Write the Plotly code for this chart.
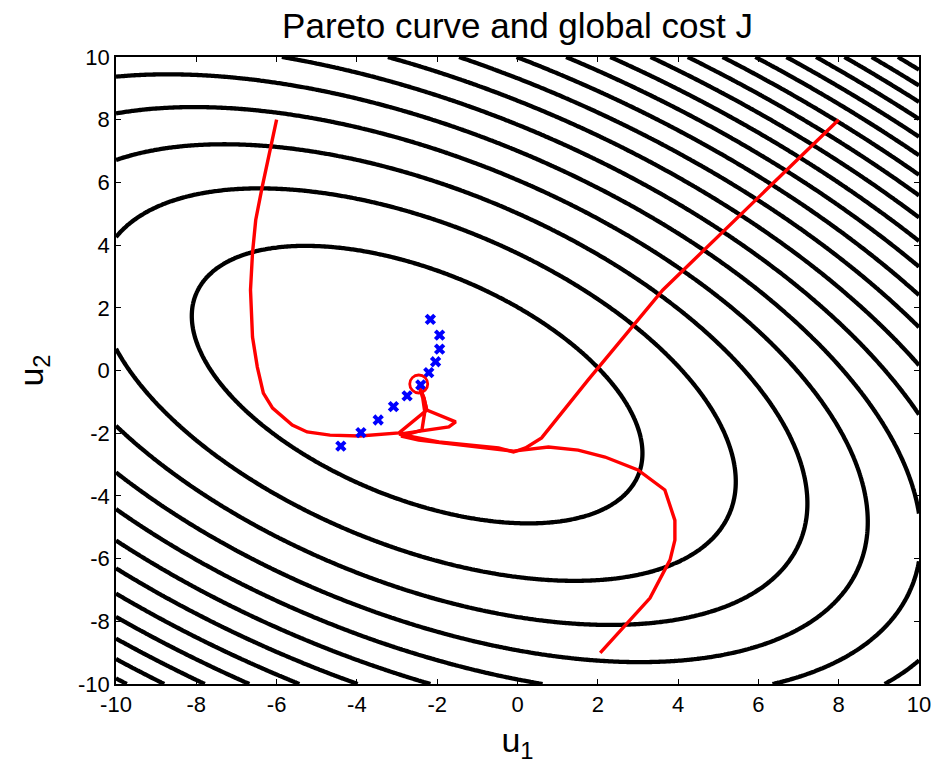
import numpy as np
import plotly.graph_objects as go

# Global cost J(u1, u2): quadratic bowl, minimum at the Nash/Pareto point
j_center = (-2.5, -0.45)
j_a, j_b, j_c = 0.622, 0.39, 1.0     # J = a*du1^2 + 2*b*du1*du2 + c*du2^2
j_step = 14.8                        # spacing between drawn level curves

# Red trajectories (u1, u2) converging to the optimum
traj_left_u1 = [-6.0, -6.15, -6.36, -6.52, -6.60, -6.65, -6.60, -6.48, -6.33, -6.10,
                -5.61, -5.24, -4.67, -3.93, -2.95, -2.26, -2.33, -2.46]
traj_left_u2 = [8.0, 7.13, 5.85, 4.80, 3.75, 2.57, 1.07, 0.11, -0.72, -1.20,
                -1.74, -1.96, -2.06, -2.09, -1.99, -1.26, -0.88, -0.46]

traj_right_u1 = [8.0, 3.62, 1.76, 0.60, 0.20, -0.10, -0.47, -1.96, -2.95, -2.38,
                 -1.71, -1.54, -2.26, -2.33, -2.46]
traj_right_u2 = [8.0, 2.57, -0.30, -2.15, -2.47, -2.60, -2.47, -2.28, -2.03, -1.93,
                 -1.80, -1.64, -1.26, -0.88, -0.46]

traj_bottom_u1 = [2.06, 3.30, 3.80, 3.92, 3.92, 3.67, 3.0, 2.18, 1.51, 0.77, -0.10,
                  -1.22, -2.46, -2.90, -2.38, -2.31, -2.36, -2.46]
traj_bottom_u2 = [-9.01, -7.26, -6.04, -5.41, -4.78, -3.81, -3.17, -2.76, -2.54, -2.44,
                  -2.57, -2.41, -2.22, -2.09, -1.90, -1.32, -0.88, -0.46]

# Pareto points
pareto_u1 = [-2.17, -1.94, -1.94, -2.04, -2.21, -2.41, -2.75, -3.09, -3.47, -3.90, -4.40]
pareto_u2 = [1.63, 1.13, 0.68, 0.28, -0.07, -0.46, -0.81, -1.15, -1.58, -1.98, -2.41]

# Minimum of the global cost
opt_u1 = [-2.46]
opt_u2 = [-0.43]

axis_ticks = [-10, -8, -6, -4, -2, 0, 2, 4, 6, 8, 10]

grid = np.linspace(-10, 10, 301)
U1, U2 = np.meshgrid(grid, grid)
d1 = U1 - j_center[0]
d2 = U2 - j_center[1]
J = j_a * d1**2 + 2 * j_b * d1 * d2 + j_c * d2**2

fig = go.Figure()

fig.add_trace(go.Contour(
    x=grid, y=grid, z=J,
    contours=dict(coloring="lines", start=j_step, end=40 * j_step, size=j_step),
    colorscale=[[0, "black"], [1, "black"]],
    line=dict(width=4.3),
    showscale=False, hoverinfo="skip",
))

for xs, ys in [(traj_left_u1, traj_left_u2),
               (traj_right_u1, traj_right_u2),
               (traj_bottom_u1, traj_bottom_u2)]:
    fig.add_trace(go.Scatter(x=xs, y=ys, mode="lines",
                             line=dict(color="#ff0000", width=3.4)))

fig.add_trace(go.Scatter(x=pareto_u1, y=pareto_u2, mode="markers",
                         marker=dict(symbol="x", size=10, color="#0000ff",
                                     line=dict(width=0))))

fig.add_trace(go.Scatter(x=opt_u1, y=opt_u2, mode="markers",
                         marker=dict(symbol="circle-open", size=18, color="#ff0000",
                                     line=dict(width=2.8, color="#ff0000"))))

axis_common = dict(
    range=[-10, 10], tickvals=axis_ticks, ticktext=[str(t) for t in axis_ticks],
    showgrid=False, zeroline=False, showline=True, linecolor="black", linewidth=1.5,
    mirror="allticks", ticks="inside", ticklen=5, tickwidth=1, tickcolor="black",
    tickfont=dict(size=22, color="black"),
)

fig.update_layout(
    width=943, height=773,
    margin=dict(l=116, r=21, t=57, b=89),
    paper_bgcolor="white", plot_bgcolor="white",
    font=dict(family="Liberation Sans, Arial, sans-serif", color="black"),
    showlegend=False,
    title=dict(text="Pareto curve and global cost J", x=0.5, xref="paper",
               xanchor="center", y=0.967, yanchor="middle", font=dict(size=35)),
    xaxis=dict(**axis_common,
               title=dict(text="u<sub>1</sub>", font=dict(size=34), standoff=12)),
    yaxis=dict(**axis_common,
               title=dict(text="u<sub>2</sub>", font=dict(size=34), standoff=24)),
)

fig.write_html("out.html")
